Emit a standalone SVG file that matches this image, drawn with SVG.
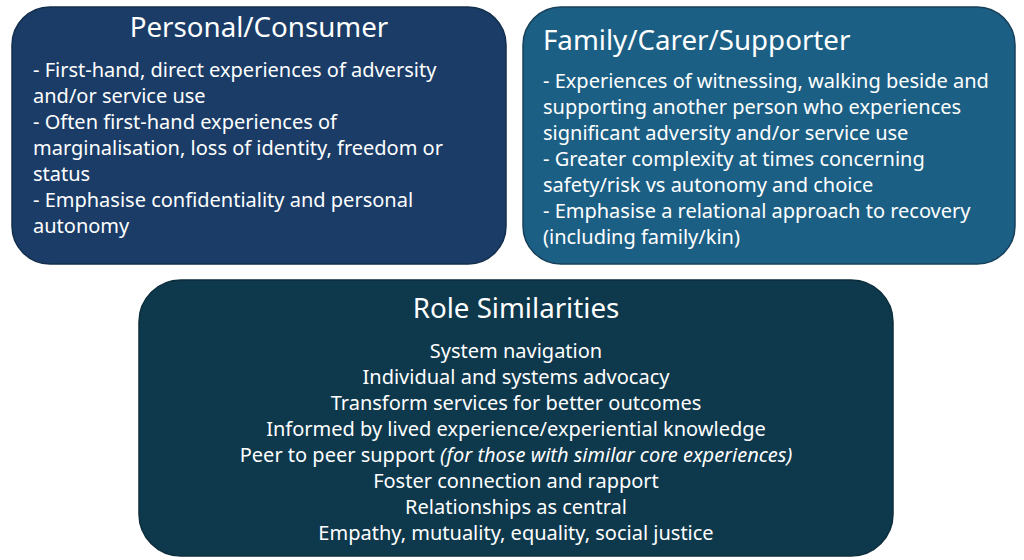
<svg xmlns="http://www.w3.org/2000/svg" width="1024" height="560" viewBox="0 0 1024 560">
<style>
.t{font-family:"Noto Sans","Open Sans","Liberation Sans",sans-serif;fill:#ffffff}
.h{font-size:27.7px}
.b{font-size:20px}
.c{text-anchor:middle}
</style>
<rect width="1024" height="560" fill="#ffffff"/>
<g id="personal">
<rect x="12" y="7" width="494" height="257" rx="38" ry="38" fill="#1a3c66" stroke="#132e4d" stroke-width="1.5"/>
<text class="t h c" x="259" y="37">Personal/Consumer</text>
<text class="t b" x="33" y="77">- First-hand, direct experiences of adversity</text>
<text class="t b" x="33" y="103">and/or service use</text>
<text class="t b" x="33" y="129">- Often first-hand experiences of</text>
<text class="t b" x="33" y="155">marginalisation, loss of identity, freedom or</text>
<text class="t b" x="33" y="181">status</text>
<text class="t b" x="33" y="207">- Emphasise confidentiality and personal</text>
<text class="t b" x="33" y="233">autonomy</text>
</g>
<g id="family">
<rect x="523" y="7" width="492" height="257" rx="38" ry="38" fill="#1c5f85" stroke="#17405a" stroke-width="1.5"/>
<text class="t h" x="543" y="50">Family/Carer/Supporter</text>
<text class="t b" x="543" y="88">- Experiences of witnessing, walking beside and</text>
<text class="t b" x="543" y="114">supporting another person who experiences</text>
<text class="t b" x="543" y="140">significant adversity and/or service use</text>
<text class="t b" x="543" y="166">- Greater complexity at times concerning</text>
<text class="t b" x="543" y="192">safety/risk vs autonomy and choice</text>
<text class="t b" x="543" y="218">- Emphasise a relational approach to recovery</text>
<text class="t b" x="543" y="244">(including family/kin)</text>
</g>
<g id="similarities">
<rect x="139" y="280" width="754" height="276" rx="42" ry="42" fill="#0e384c" stroke="#0b2c3b" stroke-width="1.5"/>
<text class="t h c" x="516" y="318">Role Similarities</text>
<text class="t b c" x="516" y="358">System navigation</text>
<text class="t b c" x="516" y="384">Individual and systems advocacy</text>
<text class="t b c" x="516" y="410">Transform services for better outcomes</text>
<text class="t b c" x="516" y="436">Informed by lived experience/experiential knowledge</text>
<text class="t b c" x="516" y="462">Peer to peer support <tspan font-style="italic">(for those with similar core experiences)</tspan></text>
<text class="t b c" x="516" y="488">Foster connection and rapport</text>
<text class="t b c" x="516" y="514">Relationships as central</text>
<text class="t b c" x="516" y="540">Empathy, mutuality, equality, social justice</text>
</g>
<g id="connectors"></g>
</svg>
